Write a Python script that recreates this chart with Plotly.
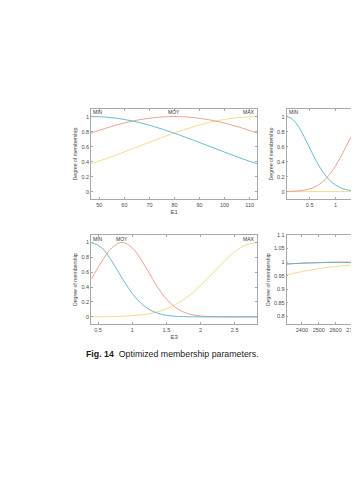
import plotly.graph_objects as go

# The page body adds an 8px margin, so the figure is drawn 8px smaller
# and every position below is given in screen pixels minus 8.
OFF = 8
W, H = 359 - OFF, 480 - OFF

# ---- data ----
# Panel E1 (top-left)
e1_x = [46.7, 52, 58, 64, 70, 76, 82, 88, 94, 100, 106, 113]
e1_min = [1.0, 0.994, 0.972, 0.935, 0.884, 0.823, 0.754, 0.680, 0.603, 0.526, 0.451, 0.370]
e1_moy = [0.780, 0.839, 0.898, 0.945, 0.978, 0.997, 0.999, 0.985, 0.956, 0.912, 0.857, 0.780]
e1_max = [0.370, 0.431, 0.504, 0.581, 0.658, 0.733, 0.805, 0.868, 0.922, 0.962, 0.989, 1.0]
e1_ticks = [50, 60, 70, 80, 90, 100, 110]

# Panel E2 (top-right, partly visible)
e2_x = [0.052, 0.15, 0.25, 0.35, 0.45, 0.55, 0.65, 0.75, 0.85, 0.95, 1.05, 1.15, 1.25, 1.40]
e2_min = [1.0, 0.974, 0.899, 0.787, 0.652, 0.512, 0.381, 0.268, 0.179, 0.113, 0.068, 0.039, 0.021, 0.007]
e2_moy = [0.002, 0.004, 0.007, 0.015, 0.027, 0.048, 0.081, 0.129, 0.198, 0.288, 0.399, 0.526, 0.660, 0.846]
e2_max = [0.0, 0.0, 0.0, 0.0, 0.0, 0.0, 0.0, 0.0, 0.0, 0.0, 0.0, 0.0, 0.001, 0.001]
e2_ticks = [0.5, 1, 1.5]

# Panel E3 (bottom-left)
e3_x = [0.4, 0.55, 0.7, 0.85, 1.0, 1.15, 1.3, 1.45, 1.6, 1.75, 1.9, 2.1, 2.3, 2.5, 2.65, 2.83]
e3_min = [1.0, 0.930, 0.749, 0.523, 0.315, 0.165, 0.075, 0.029, 0.010, 0.003, 0.001, 0.0, 0.0, 0.0, 0.0, 0.0]
e3_moy = [0.505, 0.738, 0.927, 1.0, 0.927, 0.738, 0.505, 0.296, 0.150, 0.065, 0.024, 0.005, 0.001, 0.0, 0.0, 0.0]
e3_max = [0.001, 0.001, 0.003, 0.007, 0.015, 0.029, 0.052, 0.091, 0.149, 0.230, 0.337, 0.511, 0.702, 0.872, 0.960, 1.0]
e3_ticks = [0.5, 1, 1.5, 2, 2.5]
e3_ticktext = ["0.5", "1", "1.5", "2", "2.5"]

# Panel E4 (bottom-right, partly visible)
e4_x = [2309, 2400, 2500, 2600, 2721]
e4_min = [0.993, 0.996, 0.998, 0.999, 0.998]
e4_moy = [0.993, 0.996, 0.998, 1.0, 1.0]
e4_max = [0.953, 0.965, 0.976, 0.984, 0.991]
e4_ticks = [2400, 2500, 2600, 2700]

unit_ticks = [0, 0.2, 0.4, 0.6, 0.8, 1]
unit_text = ["0", "0.2", "0.4", "0.6", "0.8", "1"]
e4_yticks = [0.8, 0.85, 0.9, 0.95, 1, 1.05, 1.1]
e4_ytext = ["0.8", "0.85", "0.9", "0.95", "1", "1.05", "1.1"]

C_MIN = "#5ab2cc"
C_MOY = "#e59a84"
C_MAX = "#f5d67f"
FRAME = "#a8a8a8"
TXT = "#4a4a4a"
FONT = "Liberation Sans, Arial, sans-serif"

fig = go.Figure()

panels = [
    ("x", "y", e1_x, e1_min, e1_moy, e1_max),
    ("x2", "y2", e2_x, e2_min, e2_moy, e2_max),
    ("x3", "y3", e3_x, e3_min, e3_moy, e3_max),
    ("x4", "y4", e4_x, e4_min, e4_moy, e4_max),
]
for xa, ya, xs, a, b, c in panels:
    for ys, col in ((c, C_MAX), (b, C_MOY), (a, C_MIN)):
        fig.add_trace(go.Scatter(x=xs, y=ys, xaxis=xa, yaxis=ya, mode="lines",
                                 line=dict(color=col, width=0.9, shape="spline", smoothing=1.0),
                                 showlegend=False, hoverinfo="skip"))

def px_x(p):
    return (p - OFF) / W

def px_y(p):
    return 1 - (p - OFF) / H

top_dom = [px_y(197.3), px_y(106.7)]
bot_dom = [px_y(323.3), px_y(233.4)]
left_dom = [px_x(91.8), px_x(259.3)]
right_dom = [px_x(289.0), 1.0]

common_ax = dict(showline=True, linecolor=FRAME, linewidth=0.8, ticks="inside",
                 ticklen=2, tickcolor=FRAME, tickwidth=0.8, showgrid=False,
                 zeroline=False, tickfont=dict(size=5.5, color=TXT, family=FONT),
                 ticklabeloverflow="allow")

title_font = dict(size=5.2, color=TXT, family=FONT)
xt_font = dict(size=6, color=TXT, family=FONT)

fig.update_layout(
    width=W, height=H, margin=dict(l=0, r=0, t=0, b=0),
    paper_bgcolor="white", plot_bgcolor="white", showlegend=False,
    xaxis=dict(domain=left_dom, anchor="y", range=[46.7, 113], tickvals=e1_ticks,
               mirror="ticks", title=dict(text="E1", font=xt_font, standoff=3),
               **common_ax),
    yaxis=dict(domain=top_dom, anchor="x", range=[-0.1, 1.1], tickvals=unit_ticks, ticktext=unit_text,
               mirror="ticks", title=dict(text="Degree of membership", font=title_font, standoff=3),
               **common_ax),
    xaxis2=dict(domain=right_dom, anchor="y2", range=[0.052, 1.398], tickvals=e2_ticks,
                ticktext=["0.5", "1", "1.5"], mirror="ticks", **common_ax),
    yaxis2=dict(domain=top_dom, anchor="x2", range=[-0.1, 1.1], tickvals=unit_ticks, ticktext=unit_text,
                mirror=False, title=dict(text="Degree of membership", font=title_font, standoff=3),
                **common_ax),
    xaxis3=dict(domain=left_dom, anchor="y3", range=[0.397, 2.83], tickvals=e3_ticks, ticktext=e3_ticktext,
                mirror="ticks", title=dict(text="E3", font=xt_font, standoff=3),
                **common_ax),
    yaxis3=dict(domain=bot_dom, anchor="x3", range=[-0.1, 1.1], tickvals=unit_ticks, ticktext=unit_text,
                mirror="ticks", title=dict(text="Degree of membership", font=title_font, standoff=3),
                **common_ax),
    xaxis4=dict(domain=right_dom, anchor="y4", range=[2309, 2721], tickvals=e4_ticks,
                mirror="ticks", **common_ax),
    yaxis4=dict(domain=bot_dom, anchor="x4", range=[0.771, 1.1], tickvals=e4_yticks, ticktext=e4_ytext,
                mirror=False, title=dict(text="Degree of membership", font=title_font, standoff=3),
                **common_ax),
)

lab_font = dict(size=5, color="#333333", family=FONT)
labels = [
    ("x", "y", 46.7, 1.055, "MIN", "left"),
    ("x", "y", 79.9, 1.055, "MOY", "center"),
    ("x", "y", 113, 1.055, "MAX", "right"),
    ("x2", "y2", 0.052, 1.055, "MIN", "left"),
    ("x3", "y3", 0.397, 1.05, "MIN", "left"),
    ("x3", "y3", 0.85, 1.05, "MOY", "center"),
    ("x3", "y3", 2.83, 1.05, "MAX", "right"),
    ("x4", "y4", 2709, 1.048, "MOY", "left"),
]
for xr, yr, xv, yv, t, anc in labels:
    fig.add_annotation(x=xv, y=yv, xref=xr, yref=yr, text=t, showarrow=False,
                       xanchor=anc, yanchor="middle", font=lab_font, borderpad=0,
                       xshift=1 if anc == "left" else (-1 if anc == "right" else 0))

fig.add_annotation(x=px_x(85), y=px_y(353), xref="paper", yref="paper", xanchor="left",
                   yanchor="middle", showarrow=False,
                   text="<b>Fig. 14</b>&nbsp; Optimized membership parameters.",
                   font=dict(size=8.8, color="#1a1a1a", family=FONT))

fig.write_html("out.html")
